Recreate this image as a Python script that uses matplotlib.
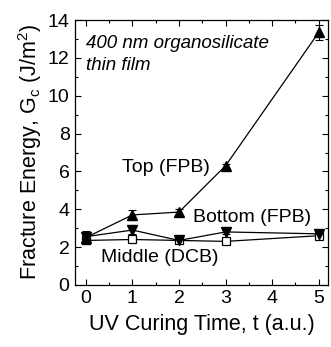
import matplotlib
matplotlib.use("Agg")
import matplotlib.pyplot as plt
from matplotlib.ticker import MultipleLocator

plt.rcParams['font.family'] = ['Liberation Sans', 'DejaVu Sans']

t = [0, 1, 2, 3, 5]
top_fpb = [2.5, 3.7, 3.85, 6.3, 13.35]
top_err = [0.35, 0.25, 0.15, 0.1, 0.4]
bottom_fpb = [2.55, 2.9, 2.35, 2.8, 2.7]
bottom_err = [0.2, 0.2, 0.1, 0.1, 0.15]
middle_dcb = [2.35, 2.4, 2.35, 2.3, 2.6]
middle_err = [0.1, 0.1, 0.05, 0.05, 0.1]

xticks = [0, 1, 2, 3, 4, 5]
yticks = [0, 2, 4, 6, 8, 10, 12, 14]

fig = plt.figure(figsize=(3.31, 3.47), dpi=100)
ax = fig.add_axes([0.227, 0.179, 0.764, 0.763])

common = dict(color='black', lw=0.9, elinewidth=0.8, capsize=3, capthick=0.8)
ax.errorbar(t, middle_dcb, yerr=middle_err, marker='s', ms=5.5, mfc='white',
            mec='black', mew=0.9, **common)
ax.errorbar(t, bottom_fpb, yerr=bottom_err, marker='v', ms=7, mfc='black',
            mec='black', **common)
ax.errorbar(t, top_fpb, yerr=top_err, marker='^', ms=7, mfc='black',
            mec='black', **common)

ax.set_xlim(-0.23, 5.2)
ax.set_ylim(0, 14)
ax.set_xticks(xticks)
ax.set_yticks(yticks)
ax.xaxis.set_minor_locator(MultipleLocator(0.5))
ax.yaxis.set_minor_locator(MultipleLocator(1))
ax.tick_params(which='both', direction='in', top=True, right=True, labelsize=14)
ax.tick_params(which='major', length=4, width=0.8, pad=4)
ax.tick_params(which='minor', length=2.5, width=0.8)
for s in ax.spines.values():
    s.set_linewidth(0.9)

ax.set_xlabel('UV Curing Time, t (a.u.)', fontsize=15.5, labelpad=5)
ax.set_ylabel('Fracture Energy, G$_\\mathregular{c}$ (J/m$^\\mathregular{2}$)',
              fontsize=15.5, labelpad=3)

ax.text(0.0, 12.2, '400 nm organosilicate\nthin film', fontsize=13.5,
        style='italic', va='center', ha='left', linespacing=1.4)
ax.text(1.72, 6.2, 'Top (FPB)', fontsize=14, va='center', ha='center')
ax.text(3.57, 3.55, 'Bottom (FPB)', fontsize=14, va='center', ha='center')
ax.text(1.58, 1.45, 'Middle (DCB)', fontsize=14, va='center', ha='center')

fig.savefig('out.png', dpi=100)
